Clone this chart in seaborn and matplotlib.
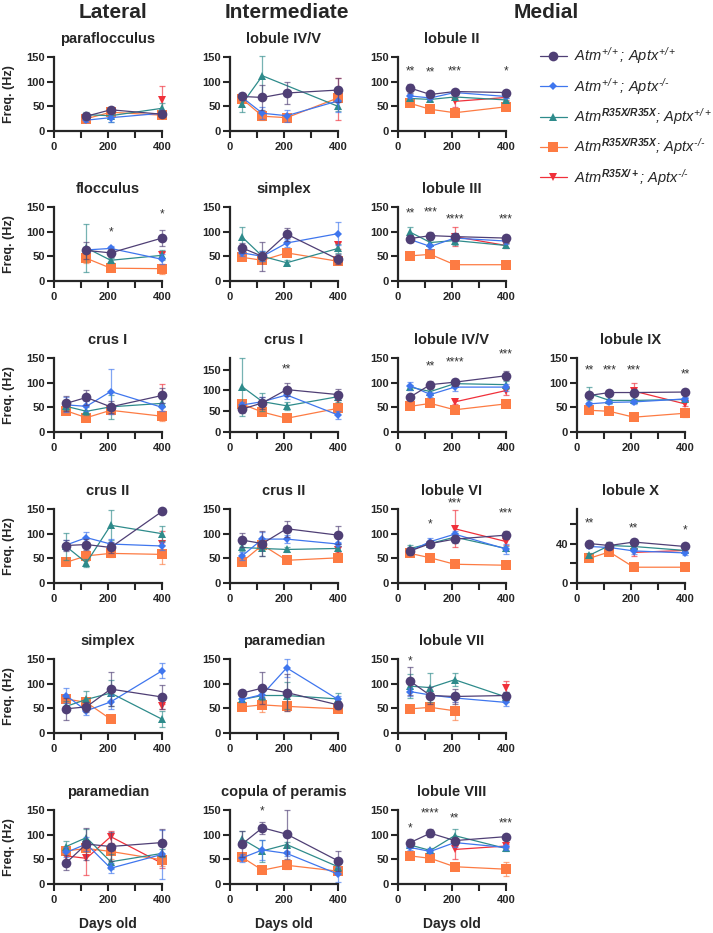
import numpy as np
import pandas as pd
import matplotlib
matplotlib.use("Agg")
import matplotlib.pyplot as plt
from matplotlib.lines import Line2D
from matplotlib.ticker import FixedLocator
import seaborn as sns

sns.set_style("ticks")
plt.rcParams["font.family"] = ["Liberation Sans", "DejaVu Sans"]
plt.rcParams["font.weight"] = "bold"
plt.rcParams["mathtext.fontset"] = "custom"
plt.rcParams["mathtext.rm"] = "Liberation Sans:italic:normal"
plt.rcParams["mathtext.it"] = "Liberation Sans:italic:normal"
plt.rcParams["mathtext.bf"] = "Liberation Sans:italic:bold"

# ---- data ----
days = [45, 120, 210, 400]
groups = ["wt", "aptx", "atm", "dko", "het"]
labels = [r"$Atm^{+/+}$; $Aptx^{+/+}$",
          r"$Atm^{+/+}$; $Aptx^{\text{-/-}}$",
          r"$Atm^{\mathbf{R35X/R35X}}$; $Aptx^{+/+}$",
          r"$Atm^{\mathbf{R35X/R35X}}$; $Aptx^{\text{-/-}}$",
          r"$Atm^{\mathbf{R35X/+}}$; $Aptx^{\text{-/-}}$"]
colors = ["#4F3F75", "#3F76EE", "#2E8B8B", "#FD7B43", "#F0303A"]
markers = ["o", "D", "^", "s", "v"]
msizes = [7, 4.5, 6, 6.5, 6]
N = None

# order of rows in each table: wt, aptx, atm, dko, het
parafloc_mean = [[N, 30, 43, 34], [N, 22, 27, 36], [N, 33, 31, 46], [N, 25, 38, 32], [N, N, N, 62]]
parafloc_err = [[N, 6, 5, 5], [N, 4, 8, 5], [N, 6, 12, 10], [N, 4, 4, 5], [N, N, N, 30]]

int_lob45_mean = [[70, 68, 77, 83], [68, 36, 31, 61], [55, 112, N, 50], [65, 30, 27, 67], [N, N, N, 65]]
int_lob45_err = [[8, 25, 22, 25], [6, 12, 12, 22], [16, 40, N, 10], [6, 8, 6, 8], [N, N, N, 42]]

lob2_mean = [[87, 74, 80, 78], [71, 67, 78, 70], [66, 64, 69, 63], [56, 44, 37, 49], [N, N, 60, 68]]
lob2_err = [[9, 4, 4, 4], [5, 3, 3, 3], [4, 3, 4, 3], [5, 3, 4, 4], [N, N, 12, 6]]

floc_mean = [[N, 62, 57, 87], [N, 63, 66, 44], [N, 67, 42, 52], [N, 46, 26, 25], [N, N, N, 52]]
floc_err = [[N, 18, 8, 16], [N, 5, 5, 10], [N, 48, 5, 10], [N, 10, 4, 10], [N, N, N, 6]]

int_simplex_mean = [[67, 50, 95, 44], [57, 50, 77, 96], [89, 50, 37, 66], [48, 42, 57, 40], [N, N, N, 72]]
int_simplex_err = [[10, 30, 13, 10], [7, 10, 8, 23], [20, 10, 5, 10], [5, 6, 5, 6], [N, N, N, 8]]

lob3_mean = [[86, 92, 90, 87], [84, 70, 87, 81], [99, 78, 82, 72], [51, 54, 33, 33], [N, N, 90, 72]]
lob3_err = [[7, 7, 8, 7], [5, 5, 5, 5], [10, 5, 10, 5], [3, 4, 2, 3], [N, N, 20, 5]]

lat_crus1_mean = [[58, 70, 51, 74], [55, 52, 82, 50], [52, 42, 51, 58], [43, 29, 44, 32], [N, N, N, 70]]
lat_crus1_err = [[15, 15, 12, 16], [15, 10, 45, 8], [8, 8, 25, 8], [5, 5, 8, 10], [N, N, N, 27]]

int_crus1_mean = [[55, 70, 102, 90], [65, 73, 89, 41], [109, 73, 63, 85], [67, 48, 33, 57], [N, N, N, 77]]
int_crus1_err = [[10, 15, 15, 14], [8, 10, 10, 10], [70, 22, 10, 12], [6, 8, 4, 10], [N, N, N, 8]]

med_lob45_mean = [[71, 96, 101, 114], [94, 76, 91, 91], [91, 82, 98, 96], [52, 58, 45, 57], [N, N, 61, 84]]
med_lob45_err = [[3, 7, 7, 9], [8, 5, 7, 7], [5, 5, 5, 8], [4, 5, 4, 4], [N, N, 4, 9]]

lob9_mean = [[74, 80, 80, 81], [57, 60, 61, 67], [78, 64, 64, 66], [44, 42, 30, 38], [N, N, 83, 57]]
lob9_err = [[5, 3, 8, 6], [3, 3, 4, 4], [14, 3, 3, 3], [5, 4, 4, 8], [N, N, 17, 5]]

lat_crus2_mean = [[76, 78, 72, 145], [77, 92, 79, 75], [74, 41, 117, 100], [42, 55, 60, 58], [N, N, N, 80]]
lat_crus2_err = [[12, 12, 12, 4], [10, 12, 10, 8], [28, 8, 30, 15], [5, 10, 8, 20], [N, N, N, 25]]

int_crus2_mean = [[87, 80, 110, 97], [55, 89, 89, 79], [72, 70, 68, 70], [43, 77, 46, 51], [N, N, N, 67]]
int_crus2_err = [[15, 25, 16, 18], [8, 15, 8, 5], [8, 15, 5, 6], [6, 10, 5, 4], [N, N, N, 5]]

lob6_mean = [[65, 80, 89, 97], [65, 84, 99, 69], [70, 80, 93, 70], [60, 51, 38, 36], [N, N, 110, 84]]
lob6_err = [[8, 5, 8, 8], [5, 8, 7, 10], [7, 5, 8, 6], [4, 3, 3, 3], [N, N, 37, 6]]

lob10_mean = [[40, 38, 41.5, 37], [37, 36, 32.5, 30.5], [28, 38, 37, 33], [25, 31.5, 16, 16], [N, N, 31, 33]]
lob10_err = [[3, 4, 3.5, 3], [2, 2, 3, 2], [2, 4, 3, 2], [2, 2, 2, 3], [N, N, 4, 2]]

lat_simplex_mean = [[49, 53, 89, 73], [76, 45, 63, 126], [54, 68, 81, 28], [69, 62, 28, N], [N, N, N, 54]]
lat_simplex_err = [[22, 10, 35, 25], [16, 8, 15, 15], [10, 18, 26, 16], [6, 6, 4, N], [N, N, N, 5]]

int_paramed_mean = [[81, 91, 82, 57], [68, 78, 132, 68], [68, 76, 76, 69], [53, 57, 54, 49], [N, N, N, N]]
int_paramed_err = [[6, 32, 38, 8], [6, 8, 18, 8], [6, 10, 28, 12], [5, 15, 10, 4], [N, N, N, N]]

lob7_mean = [[105, 76, 74, 76], [84, 77, 71, 62], [95, 92, 108, 73], [49, 52, 45, N], [N, N, N, 91]]
lob7_err = [[28, 18, 15, 8], [8, 5, 8, 7], [25, 30, 13, 10], [6, 6, 18, N], [N, N, N, 14]]

lat_paramed_mean = [[43, 81, 76, 84], [64, 81, 32, 60], [76, 94, 45, 62], [67, 72, 66, 49], [57, 52, 96, 42]]
lat_paramed_err = [[15, 33, 30, 28], [10, 15, 10, 50], [12, 18, 15, 8], [8, 8, 15, 12], [12, 33, 12, 10]]

copula_mean = [[81, 114, 101, 47], [53, 69, 62, 20], [91, 67, 80, 35], [54, 28, 38, 26], [N, N, N, N]]
copula_err = [[27, 12, 50, 20], [8, 20, 5, 15], [17, 22, 6, 8], [6, 3, 8, 6], [N, N, N, N]]

lob8_mean = [[84, 103, 88, 96], [74, 66, 84, 74], [79, 68, 98, 72], [57, 52, 35, 30], [N, N, 70, 77]]
lob8_err = [[7, 8, 5, 4], [5, 4, 8, 6], [5, 4, 14, 6], [4, 4, 5, 14], [N, N, 20, 5]]

# significance marks: (day, height, text)
lob2_stars = [(45, 120, "**"), (120, 118, "**"), (210, 120, "***"), (400, 120, "*")]
floc_stars = [(210, 98, "*"), (400, 134, "*")]
lob3_stars = [(45, 136, "**"), (120, 138, "***"), (210, 124, "****"), (400, 124, "***")]
int_crus1_stars = [(210, 150, "**")]
med_lob45_stars = [(120, 132, "**"), (210, 140, "****"), (400, 157, "***")]
lob9_stars = [(45, 125, "**"), (120, 125, "***"), (210, 125, "***"), (400, 116, "**")]
lob6_stars = [(120, 118, "*"), (210, 162, "***"), (400, 140, "***")]
lob10_stars = [(45, 60, "**"), (210, 55, "**"), (400, 53, "*")]
lob7_stars = [(45, 145, "*")]
copula_stars = [(120, 147, "*")]
lob8_stars = [(45, 113, "*"), (120, 143, "****"), (210, 133, "**"), (400, 123, "***")]

# (title, row, col, means, errors, stars, ylim top, yticks)
panels = [
    ("paraflocculus", 0, 0, parafloc_mean, parafloc_err, [], 150, [0, 50, 100, 150]),
    ("lobule IV/V", 0, 1, int_lob45_mean, int_lob45_err, [], 150, [0, 50, 100, 150]),
    ("lobule II", 0, 2, lob2_mean, lob2_err, lob2_stars, 150, [0, 50, 100, 150]),
    ("flocculus", 1, 0, floc_mean, floc_err, floc_stars, 150, [0, 50, 100, 150]),
    ("simplex", 1, 1, int_simplex_mean, int_simplex_err, [], 150, [0, 50, 100, 150]),
    ("lobule III", 1, 2, lob3_mean, lob3_err, lob3_stars, 150, [0, 50, 100, 150]),
    ("crus I", 2, 0, lat_crus1_mean, lat_crus1_err, [], 150, [0, 50, 100, 150]),
    ("crus I", 2, 1, int_crus1_mean, int_crus1_err, int_crus1_stars, 178, [0, 50, 100, 150]),
    ("lobule IV/V", 2, 2, med_lob45_mean, med_lob45_err, med_lob45_stars, 150, [0, 50, 100, 150]),
    ("lobule IX", 2, 3, lob9_mean, lob9_err, lob9_stars, 150, [0, 50, 100, 150]),
    ("crus II", 3, 0, lat_crus2_mean, lat_crus2_err, [], 150, [0, 50, 100, 150]),
    ("crus II", 3, 1, int_crus2_mean, int_crus2_err, [], 150, [0, 50, 100, 150]),
    ("lobule VI", 3, 2, lob6_mean, lob6_err, lob6_stars, 150, [0, 50, 100, 150]),
    ("lobule X", 3, 3, lob10_mean, lob10_err, lob10_stars, 75, [0, 40]),
    ("simplex", 4, 0, lat_simplex_mean, lat_simplex_err, [], 150, [0, 50, 100, 150]),
    ("paramedian", 4, 1, int_paramed_mean, int_paramed_err, [], 150, [0, 50, 100, 150]),
    ("lobule VII", 4, 2, lob7_mean, lob7_err, lob7_stars, 150, [0, 50, 100, 150]),
    ("paramedian", 5, 0, lat_paramed_mean, lat_paramed_err, [], 150, [0, 50, 100, 150]),
    ("copula of peramis", 5, 1, copula_mean, copula_err, copula_stars, 150, [0, 50, 100, 150]),
    ("lobule VIII", 5, 2, lob8_mean, lob8_err, lob8_stars, 150, [0, 50, 100, 150]),
]

# ---- layout (pixels) ----
W, H = 713, 933
col_left = [54, 230, 398, 577]
row_top = [57, 207, 358, 509, 659, 810]
ax_w, ax_h = 108, 74

fig = plt.figure(figsize=(W / 100, H / 100), dpi=100)

for title, r, c, means, errs, stars, ytop, yt in panels:
    ax = fig.add_axes([col_left[c] / W, 1 - (row_top[r] + ax_h) / H, ax_w / W, ax_h / H])

    rows = []
    for g, vals, ee in zip(groups, means, errs):
        for d, v, e in zip(days, vals, ee):
            if v is not None:
                rows.append({"group": g, "day": d, "freq": v, "err": e})
    df = pd.DataFrame(rows)

    # draw red first, purple last (on top)
    for i in [4, 3, 2, 1, 0]:
        sub = df[df["group"] == groups[i]]
        if sub.empty:
            continue
        ax.errorbar(sub["day"], sub["freq"], yerr=sub["err"], fmt="none",
                    ecolor=colors[i], elinewidth=0.9, capsize=2.5, capthick=0.9,
                    alpha=0.65, clip_on=False)
        sns.lineplot(data=sub, x="day", y="freq", color=colors[i], marker=markers[i],
                     markersize=msizes[i], markeredgewidth=0, linewidth=0.9,
                     estimator=None, ax=ax, legend=False)

    for ln in ax.lines:
        ln.set_clip_on(False)

    for d, y, s in stars:
        ax.text(d, y, s, ha="center", va="center", fontsize=8.5, fontweight="normal",
                color="#333333", clip_on=False)

    ax.set_xlim(0, 400)
    ax.set_ylim(0, ytop)
    ax.set_xticks([0, 200, 400])
    ax.xaxis.set_minor_locator(FixedLocator([100, 300]))
    ax.set_yticks(yt)
    if title == "lobule X":
        ax.yaxis.set_minor_locator(FixedLocator([20, 60]))
    sns.despine(ax=ax)
    for sp in ["left", "bottom"]:
        ax.spines[sp].set_linewidth(1.6)
    ax.tick_params(which="major", length=5, width=1.5, pad=1.5, labelsize=8)
    ax.tick_params(which="minor", length=5, width=1.5)
    ax.tick_params(axis="x", pad=3)
    ax.set_title(title, fontsize=10.5, fontweight="bold", pad=10)

    ax.set_xlabel("")
    ax.set_ylabel("")
    if c == 0:
        ax.set_ylabel("Freq. (Hz)", fontsize=9, fontweight="bold")
        ax.yaxis.set_label_coords(-0.36, 0.5)
    if r == 5:
        ax.set_xlabel("Days old", fontsize=10, fontweight="bold")
        ax.xaxis.set_label_coords(0.5, -0.44)

# column headers
fig.text(113 / W, 1 - 12 / H, "Lateral", ha="center", va="center", fontsize=15, fontweight="bold")
fig.text(287 / W, 1 - 12 / H, "Intermediate", ha="center", va="center", fontsize=15, fontweight="bold")
fig.text(546 / W, 1 - 12 / H, "Medial", ha="center", va="center", fontsize=15, fontweight="bold")

# legend
handles = [Line2D([], [], color=colors[i], marker=markers[i], markersize=msizes[i],
                  markeredgewidth=0, linewidth=0.9) for i in range(5)]
fig.legend(handles, labels, loc="upper left", bbox_to_anchor=(533 / W, 1 - 38 / H),
           frameon=False, borderpad=0, handlelength=1.8, handletextpad=0.5,
           labelspacing=0.65,
           prop={"family": "Liberation Sans", "style": "italic", "weight": "normal", "size": 10.5})

fig.savefig("out.png", dpi=100)
